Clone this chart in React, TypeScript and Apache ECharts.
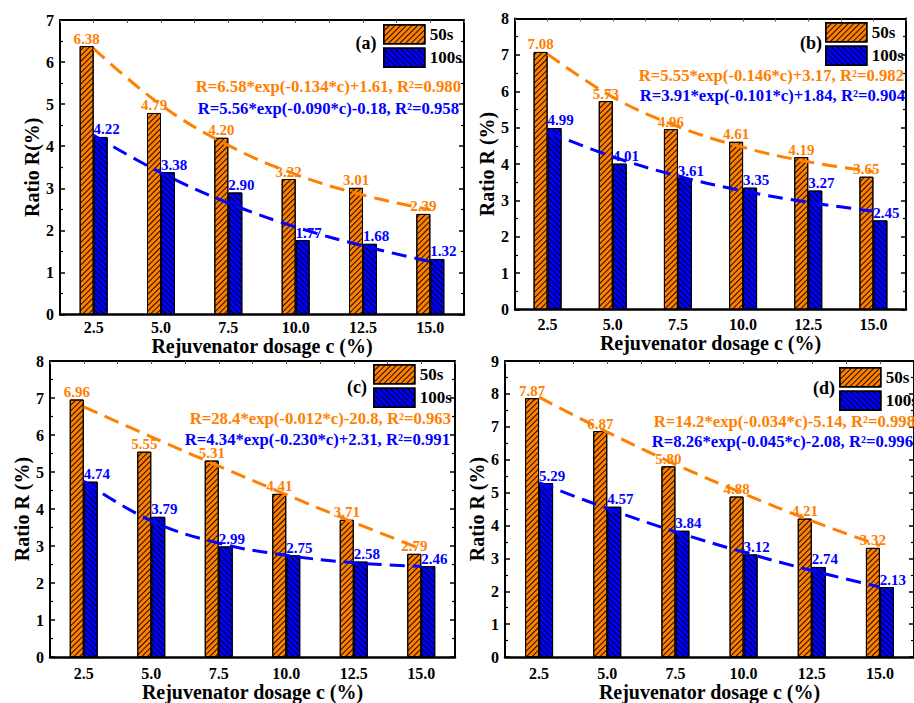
import React, { useEffect, useRef } from "react";
import * as echarts from "echarts";

const categories = ["2.5", "5.0", "7.5", "10.0", "12.5", "15.0"];

const a50 = [6.38, 4.79, 4.2, 3.22, 3.01, 2.39];
const a100 = [4.22, 3.38, 2.9, 1.77, 1.68, 1.32];
const b50 = [7.08, 5.73, 4.96, 4.61, 4.19, 3.65];
const b100 = [4.99, 4.01, 3.61, 3.35, 3.27, 2.45];
const c50 = [6.96, 5.55, 5.31, 4.41, 3.71, 2.79];
const c100 = [4.74, 3.79, 2.99, 2.75, 2.58, 2.46];
const d50 = [7.87, 6.87, 5.8, 4.88, 4.21, 3.32];
const d100 = [5.29, 4.57, 3.84, 3.12, 2.74, 2.13];

// dashed fitted curves, read at each dosage
const aFit50 = [6.32, 4.98, 4.02, 3.33, 2.84, 2.49];
const aFit100 = [4.26, 3.37, 2.65, 2.08, 1.63, 1.26];
const bFit50 = [7.02, 5.84, 5.03, 4.46, 4.06, 3.79];
const bFit100 = [4.88, 4.2, 3.67, 3.26, 2.95, 2.7];
const cFit50 = [6.76, 5.95, 5.16, 4.39, 3.64, 2.92];
const cFit100 = [4.75, 3.68, 3.08, 2.75, 2.55, 2.45];
const dFit50 = [7.9, 6.84, 5.86, 4.97, 4.14, 3.39];
const dFit100 = [5.3, 4.52, 3.81, 3.19, 2.63, 2.13];

const eqA = ["R=6.58*exp(-0.134*c)+1.61, R²=0.980", "R=5.56*exp(-0.090*c)-0.18, R²=0.958"];
const eqB = ["R=5.55*exp(-0.146*c)+3.17, R²=0.982", "R=3.91*exp(-0.101*c)+1.84, R²=0.904"];
const eqC = ["R=28.4*exp(-0.012*c)-20.8, R²=0.963", "R=4.34*exp(-0.230*c)+2.31, R²=0.991"];
const eqD = ["R=14.2*exp(-0.034*c)-5.14, R²=0.998", "R=8.26*exp(-0.045*c)-2.08, R²=0.996"];

const legendNames = ["50s", "100s"];
const panelTags = ["(a)", "(b)", "(c)", "(d)"];
const yNames = ["Ratio R(%)", "Ratio R (%)", "Ratio R (%)", "Ratio R (%)"];
const yMax = [7, 8, 8, 9];
const xName = "Rejuvenator dosage c (%)";

const ORANGE = "#FF8000";
const BLUE = "#0000FF";
const FONT = "'Liberation Serif', 'Times New Roman', serif";

const panels = [
  { bars: [a50, a100], fits: [aFit50, aFit100], eq: eqA, grid: { left: 60, top: 20, width: 404, height: 294.5 }, yGap: 14, xLabelMargin: 5, xGap: 17, legend: { left: 383, top: 24 }, tag: { x: 366, y: 43 }, eqPos: [{ x: 461, y: 86 }, { x: 459, y: 108 }] },
  { bars: [b50, b100], fits: [bFit50, bFit100], eq: eqB, grid: { left: 515, top: 18.5, width: 391, height: 291 }, yGap: 17, xLabelMargin: 7, xGap: 22, legend: { left: 825, top: 22 }, tag: { x: 811, y: 43 }, eqPos: [{ x: 904, y: 75.5 }, { x: 905, y: 95.5 }] },
  { bars: [c50, c100], fits: [cFit50, cFit100], eq: eqC, grid: { left: 50, top: 361, width: 405, height: 300 }, yGap: 17, xLabelMargin: 8, xGap: 24, legend: { left: 373, top: 364 }, tag: { x: 357, y: 387 }, eqPos: [{ x: 451, y: 418 }, { x: 450, y: 439 }] },
  { bars: [d50, d100], fits: [dFit50, dFit100], eq: eqD, grid: { left: 505, top: 361, width: 412, height: 300 }, yGap: 18, xLabelMargin: 8, xGap: 24, legend: { left: 839, top: 367 }, tag: { x: 824, y: 388 }, eqPos: [{ x: 915, y: 421 }, { x: 913, y: 441 }] },
];

function buildOption() {
  const grid: any[] = [];
  const xAxis: any[] = [];
  const yAxis: any[] = [];
  const series: any[] = [];
  const legend: any[] = [];
  const graphic: any[] = [];

  panels.forEach((p, i) => {
    grid.push({ ...p.grid, containLabel: false });
    xAxis.push({
      type: "category",
      gridIndex: i,
      data: categories,
      position: "bottom",
      axisLine: { show: true, lineStyle: { color: "#000", width: 2.5 } },
      axisTick: { show: false },
      axisLabel: { color: "#000", fontFamily: FONT, fontWeight: "bold", fontSize: 16, margin: p.xLabelMargin },
      name: xName,
      nameLocation: "middle",
      nameGap: p.xGap,
      nameTextStyle: { color: "#000", fontFamily: FONT, fontWeight: "bold", fontSize: 20 },
      splitLine: { show: false },
    });
    xAxis.push({
      type: "value",
      gridIndex: i,
      position: "top",
      min: 0,
      max: 12,
      interval: 1,
      axisLine: { show: true, onZero: false, lineStyle: { color: "#000", width: 2 } },
      axisTick: { show: true, inside: true, length: 3, lineStyle: { color: "#555", width: 1 } },
      axisLabel: { show: false },
      splitLine: { show: false },
    });
    const yBase = {
      type: "value",
      gridIndex: i,
      min: 0,
      max: yMax[i],
      interval: 1,
      splitLine: { show: false },
      axisTick: { show: true, inside: true, length: 5, lineStyle: { color: "#000", width: 1.5 } },
      minorTick: { show: true, splitNumber: 2, length: 3, lineStyle: { color: "#000", width: 1.2 } },
      axisLine: { show: true, onZero: false, lineStyle: { color: "#000", width: 2 } },
    };
    yAxis.push({
      ...yBase,
      position: "left",
      axisLabel: { color: "#000", fontFamily: FONT, fontWeight: "bold", fontSize: 16, margin: 6 },
      name: yNames[i],
      nameLocation: "middle",
      nameRotate: 90,
      nameGap: p.yGap,
      nameTextStyle: { color: "#000", fontFamily: FONT, fontWeight: "bold", fontSize: 20 },
    });
    yAxis.push({
      ...yBase,
      position: "right",
      axisLabel: { show: false },
    });

    const colors = [ORANGE, BLUE];
    const rotations = [-Math.PI / 4, Math.PI / 4];
    p.bars.forEach((vals, k) => {
      series.push({
        type: "bar",
        name: legendNames[k],
        xAxisIndex: 2 * i,
        yAxisIndex: 2 * i,
        data: vals,
        barWidth: 14,
        barGap: "0%",
        z: 2,
        itemStyle: {
          color: colors[k],
          borderColor: "#000",
          borderWidth: 1,
          decal: {
            symbol: "rect",
            symbolSize: 1,
            color: "rgba(0,0,0,0.9)",
            dashArrayX: [1, 0],
            dashArrayY: [1, 3],
            rotation: rotations[k],
          },
        },
        label: {
          show: true,
          position: "top",
          distance: 0,
          offset: k === 1 ? [6, 0] : [0, 0],
          formatter: (d: any) => Number(d.value).toFixed(2),
          color: colors[k],
          fontFamily: FONT,
          fontWeight: "bold",
          fontSize: 15,
        },
      });
    });
    p.fits.forEach((vals, k) => {
      series.push({
        type: "line",
        name: "fit" + legendNames[k] + i,
        xAxisIndex: 2 * i,
        yAxisIndex: 2 * i,
        data: vals,
        smooth: 0.4,
        symbol: "none",
        z: 5,
        lineStyle: { color: colors[k], width: 3, type: [15, 8] },
      });
    });

    legend.push({
      left: p.legend.left,
      top: p.legend.top,
      orient: "vertical",
      itemWidth: 41,
      itemHeight: 19,
      itemGap: 3,
      padding: 0,
      icon: "rect",
      selectedMode: false,
      data: legendNames,
      itemStyle: { borderColor: "#000", borderWidth: 1.5 },
      textStyle: { color: "#000", fontFamily: FONT, fontWeight: "bold", fontSize: 17 },
    });

    graphic.push({
      type: "text",
      x: p.tag.x,
      y: p.tag.y,
      style: { text: panelTags[i], fill: "#000", font: `bold 18px ${FONT}`, textAlign: "center", textVerticalAlign: "middle" },
    });
    p.eq.forEach((t, k) => {
      graphic.push({
        type: "text",
        x: p.eqPos[k].x,
        y: p.eqPos[k].y,
        z: 10,
        style: { text: t, fill: colors[k], font: `bold 16.7px ${FONT}`, textAlign: "right", textVerticalAlign: "middle" },
      });
    });
  });

  return { animation: false, backgroundColor: "#fff", grid, xAxis, yAxis, series, legend, graphic };
}

export default function App() {
  const ref = useRef<HTMLDivElement>(null);
  useEffect(() => {
    if (!ref.current) return;
    const chart = echarts.init(ref.current, null, { renderer: "svg" });
    chart.setOption(buildOption() as any);
    return () => chart.dispose();
  }, []);
  return <div ref={ref} style={{ position: "fixed", left: 0, top: 0, width: 914, height: 703 }} />;
}
